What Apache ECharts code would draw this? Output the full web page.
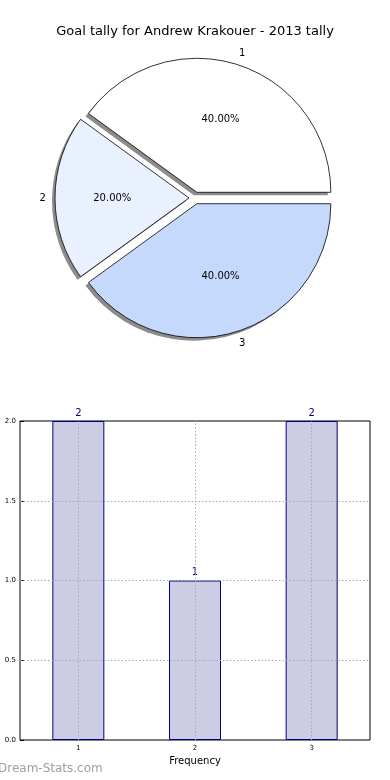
<!DOCTYPE html>
<html>
<head>
<meta charset="utf-8">
<script src="https://cdn.jsdelivr.net/npm/echarts@6/dist/echarts.min.js"></script>
<style>
html,body{margin:0;padding:0;background:#fff;}
#c{width:390px;height:780px;}
</style>
</head>
<body>
<div id="c"></div>
<script>
var titleText = 'Goal tally for Andrew Krakouer - 2013 tally';
var pieNames = ['1', '2', '3'];
var pieValues = [2, 1, 2];
var pieColors = ['#ffffff', '#eaf1fe', '#c5d9fd'];
var barCategories = ['1', '2', '3'];
var barValues = [2, 1, 2];
var yTicks = [0, 0.5, 1.0, 1.5, 2.0];
var xLabel = 'Frequency';
var watermark = 'Dream-Stats.com';

var FONT = 'DejaVu Sans';
var chart = echarts.init(document.getElementById('c'), null, {renderer: 'canvas'});

function pieData(withColor) {
  return pieNames.map(function (n, i) {
    var d = {name: n, value: pieValues[i], selected: true};
    if (withColor) d.itemStyle = {color: pieColors[i]};
    return d;
  });
}

var center = [195, 198];
var shadowCenter = [192, 201];
var R = 134;
var offset = 6;

var gridLines = [];
yTicks.slice(1, -1).forEach(function (v) { gridLines.push({yAxis: v}); });
barCategories.forEach(function (c) { gridLines.push({xAxis: c}); });

var clearStyle = {color: 'rgba(0,0,0,0)', borderWidth: 0, borderColor: 'rgba(0,0,0,0)'};

function basePie(extra) {
  var s = {
    type: 'pie',
    center: center,
    radius: [0, R],
    startAngle: 0,
    clockwise: false,
    selectedMode: 'multiple',
    selectedOffset: offset,
    silent: true,
    label: {show: false},
    labelLine: {show: false},
    emphasis: {disabled: true}
  };
  for (var k in extra) s[k] = extra[k];
  return s;
}

var option = {
  animation: false,
  backgroundColor: '#ffffff',
  textStyle: {fontFamily: FONT},
  title: {
    text: titleText,
    left: 'center',
    top: 20,
    textStyle: {fontFamily: FONT, fontSize: 13, fontWeight: 'normal', color: '#000'}
  },
  graphic: [{
    type: 'text',
    left: -2,
    top: 763,
    style: {text: watermark, fill: '#a0a0a0', font: '12px ' + FONT}
  }],
  grid: {left: 20, right: 20, top: 421, height: 319, show: true, borderColor: '#000', borderWidth: 1, backgroundColor: 'transparent'},
  xAxis: {
    type: 'category',
    data: barCategories,
    name: xLabel,
    nameLocation: 'middle',
    nameGap: 16,
    nameTextStyle: {fontFamily: FONT, fontSize: 10, color: '#000'},
    axisLine: {show: false},
    axisTick: {show: true, alignWithLabel: true, inside: true, length: 4, lineStyle: {color: '#000'}},
    axisLabel: {fontFamily: FONT, fontSize: 7, color: '#000', margin: 5},
    splitLine: {show: false}
  },
  yAxis: {
    type: 'value',
    min: 0,
    max: 2,
    interval: 0.5,
    axisLine: {show: false},
    axisTick: {show: true, inside: true, length: 4, lineStyle: {color: '#000'}},
    axisLabel: {fontFamily: FONT, fontSize: 7, color: '#000', margin: 4, formatter: function (v) { return v.toFixed(1); }},
    splitLine: {show: false}
  },
  series: [
    basePie({
      center: shadowCenter,
      z: 1,
      data: pieData(false),
      itemStyle: {color: '#8c8c8c', borderWidth: 0}
    }),
    basePie({
      z: 2,
      data: pieData(true),
      itemStyle: {borderColor: '#000', borderWidth: 0.8}
    }),
    basePie({
      z: 3,
      radius: [0, R * 1.1],
      data: pieData(false),
      itemStyle: clearStyle,
      label: {show: true, position: 'inner', formatter: function (p) { return p.percent.toFixed(2) + '%'; }, fontFamily: FONT, fontSize: 10, color: '#000'}
    }),
    basePie({
      z: 3,
      radius: [R * 1.02, R * 1.12],
      data: pieData(false),
      itemStyle: clearStyle,
      label: {show: true, position: 'inner', formatter: '{b}', fontFamily: FONT, fontSize: 10, color: '#000'}
    }),
    {
      type: 'bar',
      data: barValues,
      barWidth: 52,
      itemStyle: {color: '#ccccE4', borderColor: '#000080', borderWidth: 1},
      label: {show: true, position: 'top', distance: 3, fontFamily: FONT, fontSize: 10, color: '#000080'},
      emphasis: {disabled: true},
      markLine: {
        silent: true,
        symbol: 'none',
        label: {show: false},
        lineStyle: {color: '#aaaaaa', type: [1.5, 2], width: 1},
        data: gridLines
      }
    }
  ]
};
chart.setOption(option);
</script>
</body>
</html>
